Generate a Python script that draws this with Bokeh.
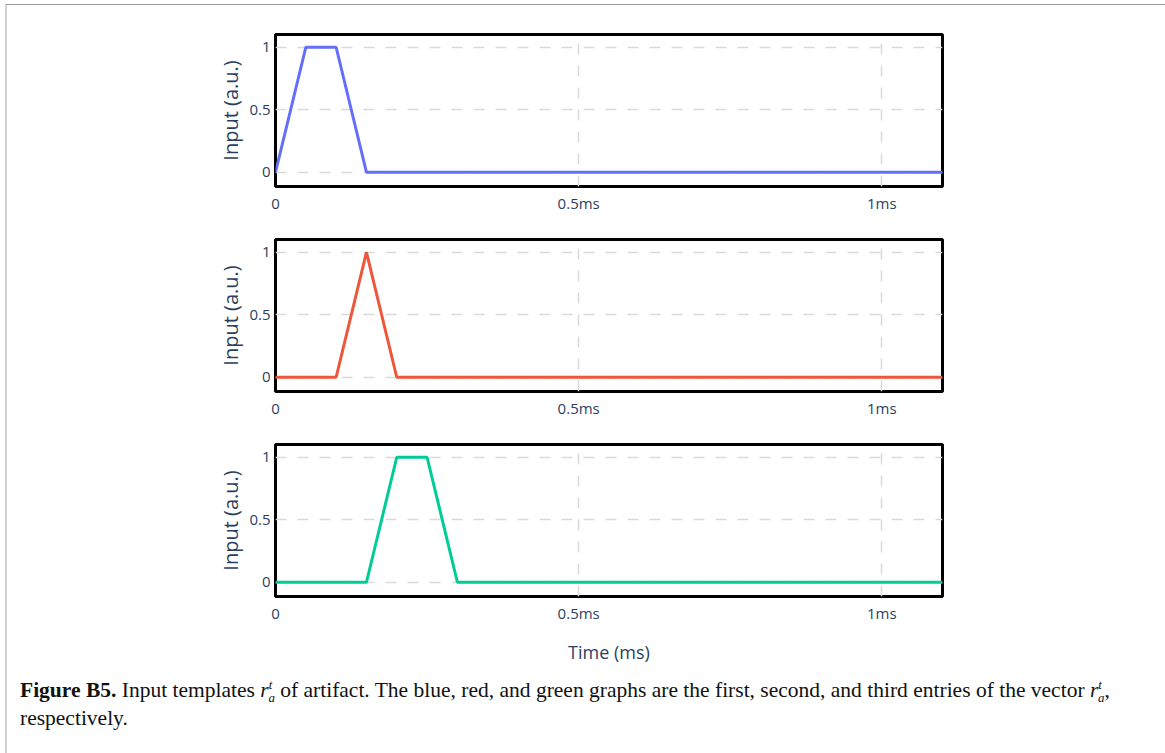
from bokeh.plotting import figure
from bokeh.models import Range1d, FixedTicker, CustomJSTickFormatter, Div
from bokeh.layouts import column
from bokeh.embed import file_html
from bokeh.resources import INLINE

# ---- data (time in ms) ----
time_ms = [0.0, 0.05, 0.1, 0.15, 0.2, 0.25, 0.3, 0.35, 0.4, 0.45, 0.5, 0.55,
           0.6, 0.65, 0.7, 0.75, 0.8, 0.85, 0.9, 0.95, 1.0, 1.05, 1.1]
input_first = [0, 1, 1, 0, 0, 0, 0, 0, 0, 0, 0, 0, 0, 0, 0, 0, 0, 0, 0, 0, 0, 0, 0]
input_second = [0, 0, 0, 1, 0, 0, 0, 0, 0, 0, 0, 0, 0, 0, 0, 0, 0, 0, 0, 0, 0, 0, 0]
input_third = [0, 0, 0, 0, 1, 1, 0, 0, 0, 0, 0, 0, 0, 0, 0, 0, 0, 0, 0, 0, 0, 0, 0]
series = [input_first, input_second, input_third]
colors = ["#636efa", "#ef553b", "#00cc96"]
x_ticks = [0, 0.5, 1.0]
y_ticks = [0, 0.5, 1.0]
y_title = "Input (a.u.)"
x_title = "Time (ms)"
caption_bold = "Figure B5."
caption_1 = " Input templates "
caption_2 = " of artifact. The blue, red, and green graphs are the first, second, and third entries of the vector "
caption_3 = "respectively."

TICK_FONT = "Open Sans"
TEXT_COLOR = "#2a3f5f"
W = 1151
LEFT = 268
FRAME_W = 667
FRAME_H = 152
# (top border, bottom border) of each panel
borders = [(29, 36), (17, 36), (17, 74)]

figs = []
for i, (ys, col) in enumerate(zip(series, colors)):
    last = i == 2
    top, bottom = borders[i]
    h = top + FRAME_H + bottom
    p = figure(width=W, height=h, output_backend="svg", toolbar_location=None,
               x_range=Range1d(0, 1.1), y_range=Range1d(-0.114, 1.102),
               min_border_left=LEFT, min_border_right=W - LEFT - FRAME_W,
               min_border_top=top, min_border_bottom=bottom)
    p.line(time_ms, ys, line_color=col, line_width=3)
    p.outline_line_color = "black"
    p.outline_line_width = 3
    p.background_fill_color = "white"
    p.border_fill_color = "white"

    p.xaxis.ticker = FixedTicker(ticks=x_ticks)
    p.yaxis.ticker = FixedTicker(ticks=y_ticks)
    p.xaxis.formatter = CustomJSTickFormatter(
        code="return tick === 0 ? '0' : (Math.round(tick*10)/10) + 'ms';")
    p.yaxis.formatter = CustomJSTickFormatter(
        code="return tick === 0 ? '0' : String(Math.round(tick*10)/10);")
    for ax in (p.xaxis, p.yaxis):
        ax.axis_line_color = None
        ax.major_tick_line_color = None
        ax.minor_tick_line_color = None
        ax.major_tick_out = 0
        ax.major_tick_in = 0
        ax.major_label_text_font = TICK_FONT
        ax.major_label_text_font_size = "15px"
        ax.major_label_text_color = TEXT_COLOR
    p.xaxis.major_label_standoff = 6
    p.yaxis.major_label_standoff = 5
    p.yaxis.axis_label = y_title
    p.yaxis.axis_label_text_font = "Open Sans"
    p.yaxis.axis_label_text_font_style = "normal"
    p.yaxis.axis_label_text_font_size = "20px"
    p.yaxis.axis_label_text_color = TEXT_COLOR
    p.yaxis.axis_label_standoff = 2
    if last:
        p.xaxis.axis_label = x_title
        p.xaxis.axis_label_text_font = TICK_FONT
        p.xaxis.axis_label_text_font_style = "normal"
        p.xaxis.axis_label_text_font_size = "18px"
        p.xaxis.axis_label_text_color = TEXT_COLOR
        p.xaxis.axis_label_standoff = 14
    for g in (p.xgrid, p.ygrid):
        g.grid_line_color = "#d9d9d9"
        g.grid_line_width = 1.5
        g.grid_line_dash = "11 11"
    figs.append(p)

r_html = ('<i>r</i><sup style="font-size:0.6em;line-height:0;font-style:italic">t</sup>'
          '<sub style="font-size:0.6em;line-height:0;font-style:italic;margin-left:-0.3em">a</sub>')
caption_html = ('<div style="font-family:\'Liberation Serif\',serif;font-size:21.5px;color:#111;'
                'line-height:28px;padding-left:8px;padding-top:1px;white-space:nowrap;">'
                '<b>' + caption_bold + '</b>' + caption_1 + r_html + caption_2 + r_html +
                ',<br>' + caption_3 + '</div>')
cap = Div(text=caption_html, width=W, height=76)

layout = column(*figs, cap, spacing=0,
                styles={"margin-left": "5px", "margin-top": "4px",
                        "border-top": "1px solid #9a9a9a",
                        "border-left": "2px solid #d2d2d2",
                        "border-right": "2px solid #d2d2d2"})
open("out.html", "w").write(file_html(layout, INLINE))
